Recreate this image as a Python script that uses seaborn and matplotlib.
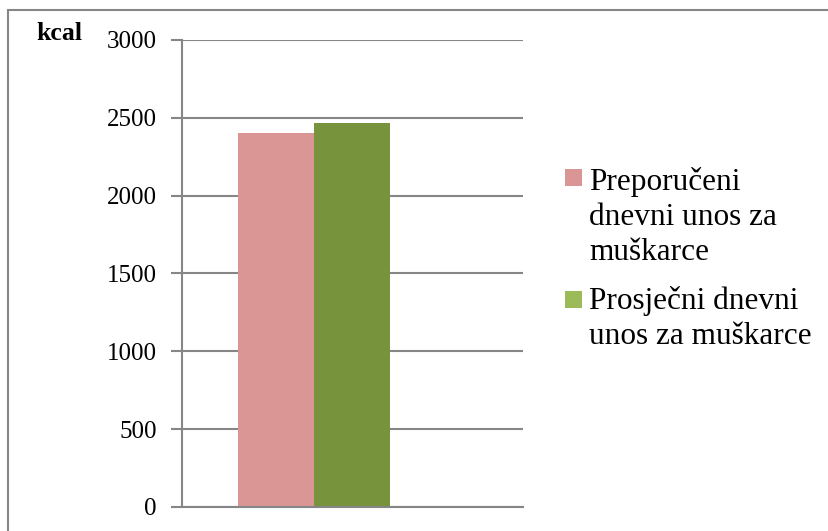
import matplotlib.pyplot as plt
import matplotlib.patches as mpatches
import seaborn as sns
import pandas as pd

# podaci
series = ["Preporučeni dnevni unos za muškarce", "Prosječni dnevni unos za muškarce"]
legend_labels = ["Preporučeni\ndnevni unos za\nmuškarce", "Prosječni dnevni\nunos za muškarce"]
kcal = [2400, 2465]
bar_colors = ["#D99694", "#77933C"]
legend_colors = ["#D99694", "#9BBB59"]
yticks = [0, 500, 1000, 1500, 2000, 2500, 3000]

sns.set_theme(style="white")
plt.rcParams['font.family'] = ['Liberation Serif', 'DejaVu Serif']
plt.rcParams['text.color'] = 'black'
plt.rcParams['ytick.color'] = 'black'

df = pd.DataFrame({"serija": series, "kcal": kcal})

W, H = 829, 531
fig = plt.figure(figsize=(W / 100, H / 100), dpi=100)
ax = fig.add_axes([0.2195, 0.0452, 0.4113, 0.8795])

sns.barplot(data=df, x="serija", y="kcal", hue="serija", palette=bar_colors,
            width=1.0, legend=False, saturation=1, linewidth=0, edgecolor="none", ax=ax)

ax.set_xlim(-1.243, 3.243)
ax.set_ylim(0, 3000)
ax.set_yticks(yticks)
ax.set_yticklabels([str(t) for t in yticks], fontsize=18, color="black")
ax.set_xticks([])
ax.set_xlabel("")
ax.set_ylabel("")
ax.yaxis.grid(True, color="#868686", linewidth=1.5)
ax.set_axisbelow(True)
ax.tick_params(axis="y", left=True, length=8, width=1.5, color="#868686", pad=10)
for s in ["top", "right"]:
    ax.spines[s].set_visible(False)
for s in ["left", "bottom"]:
    ax.spines[s].set_color("#868686")
    ax.spines[s].set_linewidth(1.5)

fig.text(36 / W, 1 - 40 / H, "kcal", fontsize=18.5, fontweight="bold",
         ha="left", va="baseline", color="black")

# legenda (kvadratić poravnat s prvim retkom; baseline = zadnji redak)
last_baselines = [260, 344]
square_centers = [177, 299]
for lab, col, yb, yc in zip(legend_labels, legend_colors, last_baselines, square_centers):
    fig.add_artist(mpatches.Rectangle((565 / W, 1 - (yc + 8.5) / H), 17 / W, 17 / H,
                                      transform=fig.transFigure, facecolor=col,
                                      edgecolor="none"))
    fig.text(589 / W, 1 - yb / H, lab, fontsize=22.5, ha="left", va="baseline",
             linespacing=1.28, color="black")

# okvir
fig.add_artist(mpatches.Rectangle((8 / W, -0.1), 2.0, 1 - 10 / H + 0.1,
                                  transform=fig.transFigure, fill=False,
                                  edgecolor="#868686", linewidth=1.5))

fig.savefig("out.png", dpi=100)
